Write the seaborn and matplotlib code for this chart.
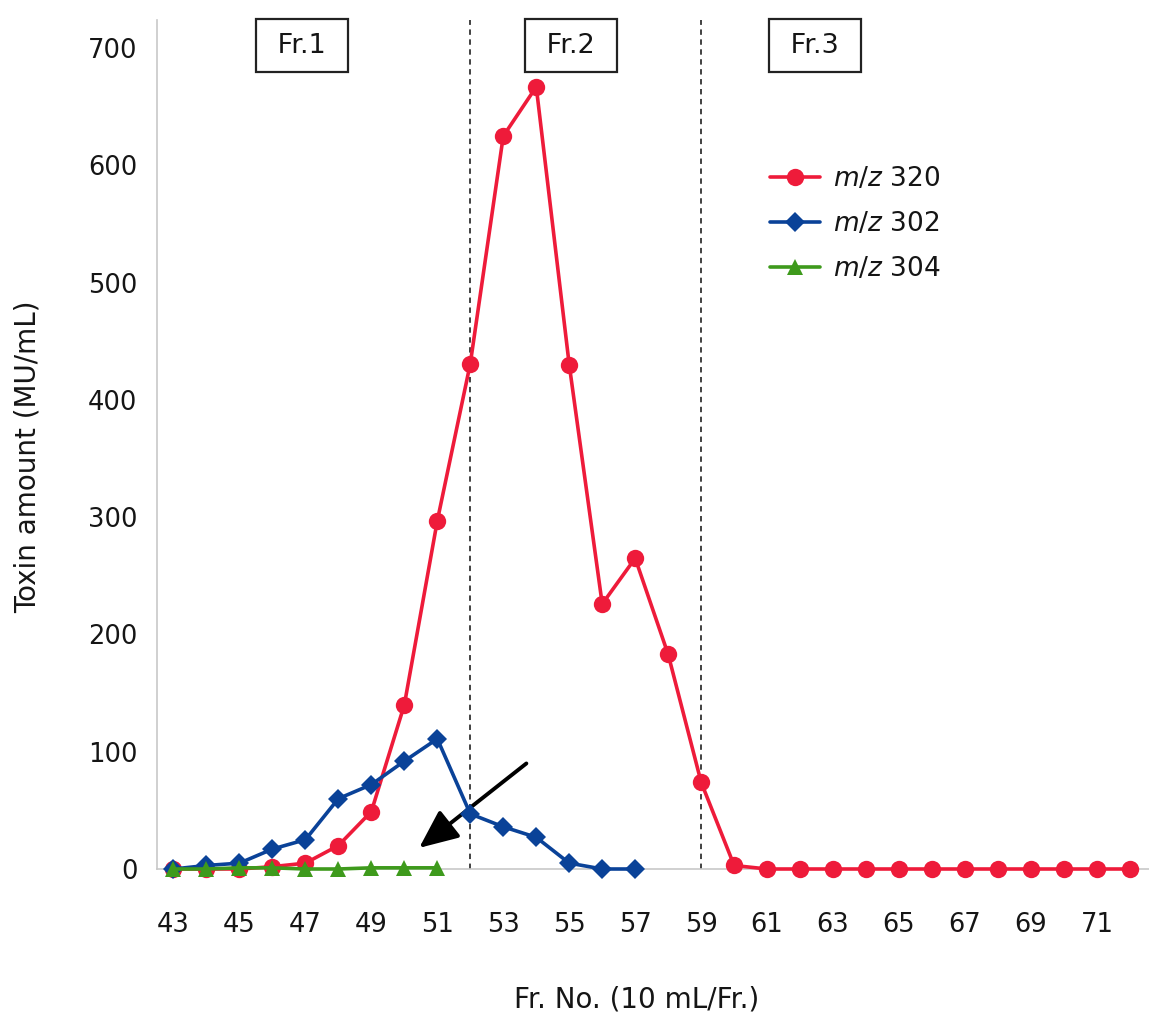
import pandas as pd
import seaborn as sns
import matplotlib.pyplot as plt

# data
fr_320 = list(range(43, 73))
tox_320 = [0, 0, 0, 2, 5, 20, 49, 140, 297, 431, 625, 667, 430, 226, 265, 183, 74, 3,
           0, 0, 0, 0, 0, 0, 0, 0, 0, 0, 0, 0]
fr_302 = list(range(43, 58))
tox_302 = [0, 3, 5, 17, 25, 60, 72, 92, 111, 47, 36, 27, 5, 0, 0]
fr_304 = list(range(43, 52))
tox_304 = [0, 0, 1, 1, 0, 0, 1, 1, 1]

series_labels = ['$m/z$ 320', '$m/z$ 302', '$m/z$ 304']
fraction_labels = ['Fr.1', 'Fr.2', 'Fr.3']
fraction_label_x = [46.9, 55.05, 62.45]
fraction_bounds = [52, 59]
x_ticks = list(range(43, 72, 2))
y_ticks = list(range(0, 701, 100))

sns.set_style('white')
plt.rcParams['font.family'] = ['DejaVu Sans']
plt.rcParams['mathtext.fontset'] = 'dejavusans'
plt.rcParams['text.color'] = '#151515'
plt.rcParams['axes.labelcolor'] = '#151515'
plt.rcParams['xtick.labelcolor'] = '#151515'
plt.rcParams['ytick.labelcolor'] = '#151515'

fig = plt.figure(figsize=(11.49, 10.18), dpi=100)
ax = fig.add_axes([157 / 1149, 149 / 1018, (1149 - 157) / 1149, (869 - 20) / 1018])

df320 = pd.DataFrame({'fr': fr_320, 'tox': tox_320})
df302 = pd.DataFrame({'fr': fr_302, 'tox': tox_302})
df304 = pd.DataFrame({'fr': fr_304, 'tox': tox_304})

sns.lineplot(data=df320, x='fr', y='tox', ax=ax, color='#EE1B3A', lw=2.6,
             marker='o', markersize=12.5, markeredgewidth=0, label=series_labels[0],
             clip_on=False, zorder=3)
sns.lineplot(data=df302, x='fr', y='tox', ax=ax, color='#0A4298', lw=2.6,
             marker='D', markersize=10, markeredgewidth=0, label=series_labels[1],
             clip_on=False, zorder=4)
sns.lineplot(data=df304, x='fr', y='tox', ax=ax, color='#3E9A1C', lw=2.6,
             marker='^', markersize=11, markeredgewidth=0, label=series_labels[2],
             clip_on=False, zorder=5)

# fraction boundaries
for xb in fraction_bounds:
    ax.axvline(xb, ymin=0, ymax=1, color='#333333', lw=1.3, ls=(0, (3, 2.5)), zorder=2)

# fraction boxes
for lab, xc in zip(fraction_labels, fraction_label_x):
    ax.text(xc, 724 - 22, ' ' + lab + ' ', ha='center', va='center', fontsize=19.5,
            bbox=dict(boxstyle='square,pad=0.5', fc='white', ec='#222222', lw=1.6))

# arrow
ax.annotate('', xy=(50.45, 18), xytext=(53.7, 90),
            arrowprops=dict(arrowstyle='-|>,head_length=1.7,head_width=0.75',
                            color='black', lw=2.8, shrinkA=0, shrinkB=0,
                            mutation_scale=14))

ax.set_xlim(42.61, 72.58)
ax.set_ylim(0, 724)
ax.set_xticks(x_ticks)
ax.set_xticks([x + 0.5 for x in range(42, 73)], minor=True)
ax.set_yticks(y_ticks)
ax.tick_params(axis='x', which='major', length=0, pad=31, labelsize=18.5)
ax.tick_params(axis='x', which='minor', direction='in', length=7, width=1, color='#aaaaaa')
ax.tick_params(axis='y', which='major', direction='in', length=10, width=1,
               color='#888888', pad=14, labelsize=18.5)

for s in ['top', 'right']:
    ax.spines[s].set_visible(False)
for s in ['left', 'bottom']:
    ax.spines[s].set_color('#c8c8c8')
    ax.spines[s].set_linewidth(1.2)

ax.set_xlabel('Fr. No. (10 mL/Fr.)', fontsize=20, va='center', ha='center')
ax.set_ylabel('Toxin amount (MU/mL)', fontsize=20, va='center', ha='center')
ax.xaxis.set_label_coords(0.483, -0.154)
ax.yaxis.set_label_coords(-0.130, 0.485)

ax.legend(loc='upper left', bbox_to_anchor=(0.594, 0.856), frameon=False,
          fontsize=19, handlelength=1.9, labelspacing=0.72, handletextpad=0.5)

fig.savefig('out.png', dpi=100)
